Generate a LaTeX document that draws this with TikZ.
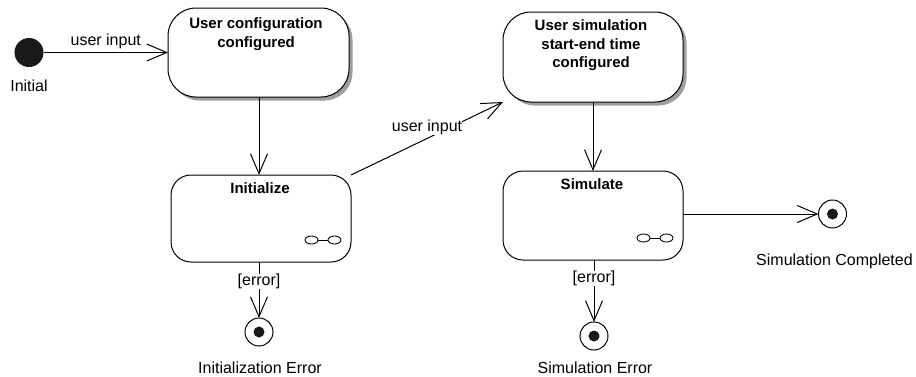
\documentclass[tikz,border=0pt]{standalone}
\usepackage{fontspec}
\setmainfont{Liberation Sans}
\usetikzlibrary{arrows.meta,shadows}

% small "composite state" glyph: two linked ellipses
\newcommand\compositeglyph[1]{%
  \begin{scope}[shift={(#1.south east)}]
    \draw[line width=0.9pt] (-39.5,-22) ellipse (6.5 and 4);
    \draw[line width=0.9pt] (-16.5,-22) ellipse (6.5 and 4);
    \draw[line width=0.9pt] (-33,-22) -- (-23,-22);
  \end{scope}}

\begin{document}
\begin{tikzpicture}[x=1pt,y=-1pt,
  every node/.style={inner sep=0pt, outer sep=0pt},
  statebox/.style={draw, line width=1pt, fill=white, rounded corners=#1},
  statebox/.default=20pt,
  shadowed/.style={drop shadow={shadow xshift=3.5pt, shadow yshift=-3.5pt,
                   fill=black!38, opacity=1}},
  % multi-line titles are placed by the baseline of their last line
  title/.style={font=\fontsize{15}{18.5}\selectfont\bfseries, align=center, anchor=base},
  caption/.style={font=\fontsize{16}{19}\selectfont, anchor=base},
  guard/.style={font=\fontsize{16}{19}\selectfont, fill=white},
  flow/.style={line width=1pt, -{Straight Barb[length=20pt, width=17pt, line width=1pt]}},
  startstate/.style={circle, fill=black!90, minimum size=29pt},
  endstate/.style={circle, draw, line width=1pt, fill=white, minimum size=28pt,
    path picture={\fill[black!90] (path picture bounding box.center) circle (5.5pt);}}
]
\useasboundingbox (0,0) rectangle (916,376);

% states
\node[startstate] (init) at (29,52.5) {};
\node[caption] (initlbl) at (29,91.5) {Initial};

\node[statebox=28pt, shadowed, minimum width=181pt, minimum height=89pt] (cfg) at (258.5,52.5) {};
\node[title] (cfgtxt) at (256,47) {User configuration\\configured};

\node[statebox, minimum width=180pt, minimum height=87pt] (ini) at (261,218.5) {};
\node[title] (initxt) at (260,193) {Initialize};
\compositeglyph{ini}

\node[statebox=28pt, shadowed, minimum width=180pt, minimum height=90pt] (simcfg) at (593,57) {};
\node[title] (simcfgtxt) at (591,67.5) {User simulation\\start-end time\\configured};

\node[statebox, minimum width=180pt, minimum height=89pt] (sim) at (593,215.5) {};
\node[title] (simtxt) at (592,189) {Simulate};
\compositeglyph{sim}

\node[endstate] (iniend) at (259,332) {};
\node[caption] (iniendlbl) at (260,373) {Initialization Error};

\node[endstate] (simerr) at (594,336) {};
\node[caption] (simerrlbl) at (595,373) {Simulation Error};

\node[endstate] (done) at (832.5,214) {};
\node[caption] (donelbl) at (834.5,265.5) {Simulation Completed};

% transitions
\draw[flow] (init) -- node[font=\fontsize{16}{19}\selectfont, above=4pt] (t1) {user input} (cfg);
\draw[flow] (cfg.south -| iniend) -- (ini.north -| iniend);
\draw[flow] (ini.south -| iniend) -- node[guard, pos=0.34] (t2) {[error]} (iniend);
\draw[flow] (ini.north east) -- node[guard, pos=0.5, yshift=11pt] (t3) {user input} (simcfg.south west);
\draw[flow] (simcfg.south) -- (simcfg.south |- sim.north);
\draw[flow] (sim.south -| simerr) -- node[guard, pos=0.3] (t4) {[error]} (simerr);
\draw[flow] (sim.east |- done) -- (done);
\end{tikzpicture}
\end{document}
